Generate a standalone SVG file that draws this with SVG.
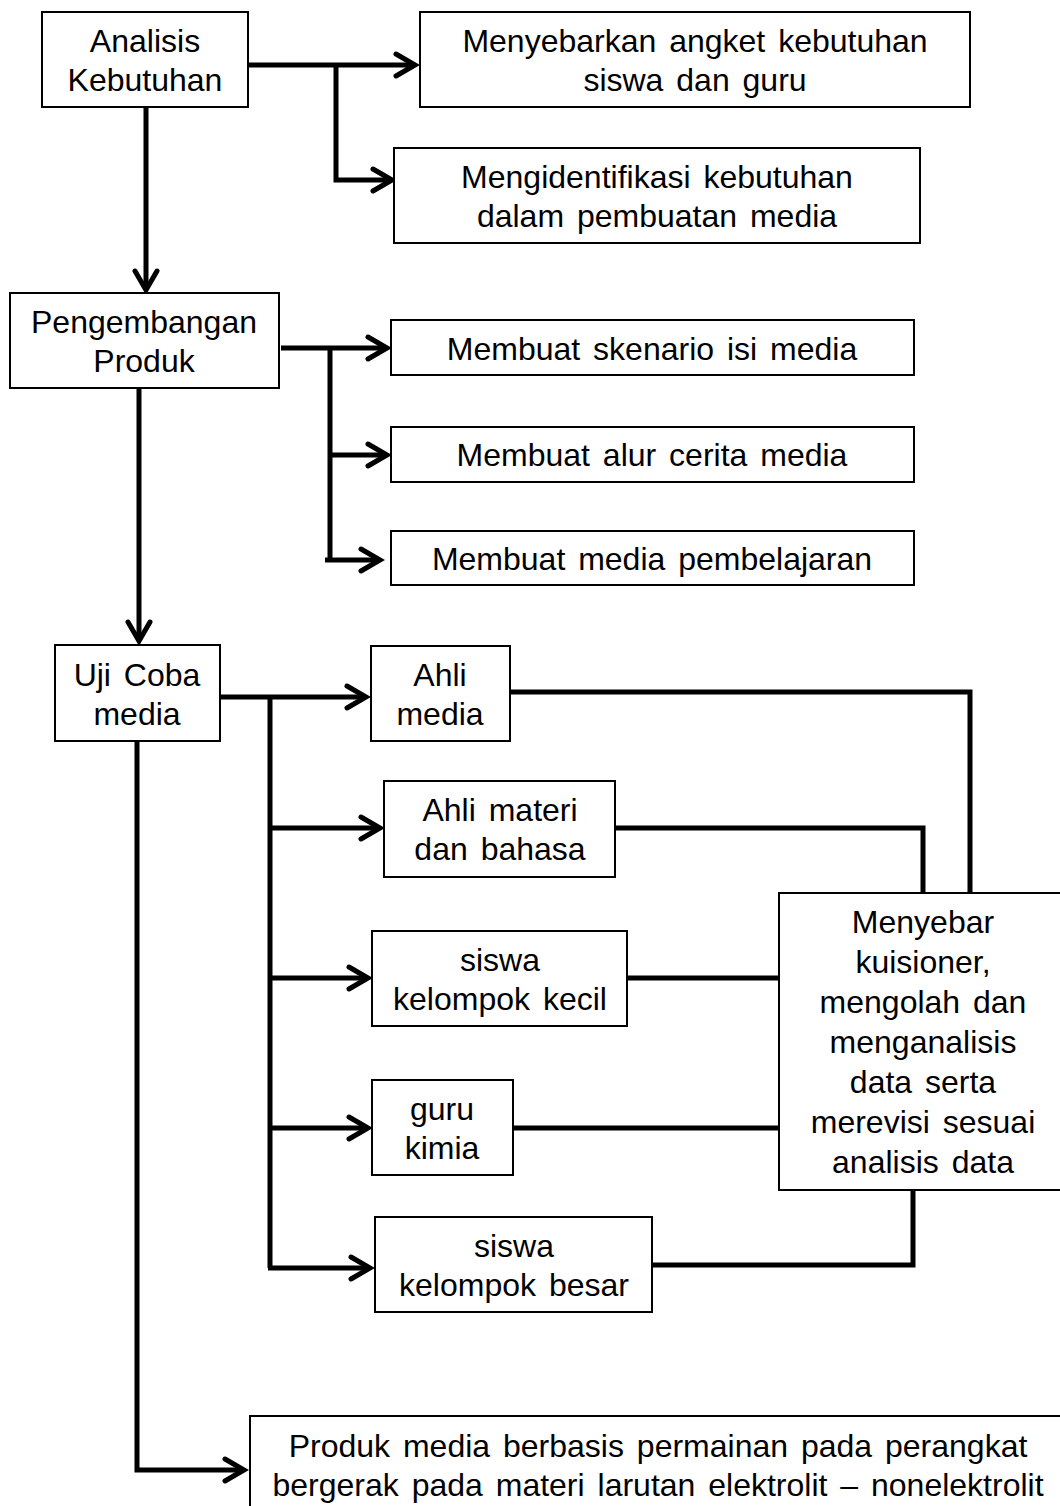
<svg xmlns="http://www.w3.org/2000/svg" width="1060" height="1506" viewBox="0 0 1060 1506">
<style>
.box{fill:#fff;stroke:#000;stroke-width:2}
.t{font-family:"Liberation Sans",Arial,sans-serif;font-size:32px;fill:#000;text-anchor:middle;word-spacing:4px}
.c{fill:none;stroke:#000;stroke-width:5;stroke-linejoin:miter}
.a{fill:none;stroke:#000;stroke-width:5;marker-end:url(#arr)}
</style>
<defs>
<marker id="arr" markerUnits="userSpaceOnUse" viewBox="-24 -14 28 28" markerWidth="28" markerHeight="28" refX="0" refY="0" orient="auto" overflow="visible">
<path d="M-19,-11 L0,0 L-19,11" fill="none" stroke="#000" stroke-width="5" stroke-linecap="round" stroke-linejoin="miter"/>
</marker>
</defs>
<rect width="1060" height="1506" fill="#fff"/>
<g id="connectors">
<path class="a" d="M243,65 H415"/>
<path class="a" d="M336,65 V180 H392"/>
<path class="a" d="M146,107 V290"/>
<path class="a" d="M281,348 H387"/>
<path class="c" d="M330,348 V560"/>
<path class="a" d="M330,455 H387"/>
<path class="a" d="M325,560 H380"/>
<path class="a" d="M139,388 V641"/>
<path class="a" d="M220,697 H366"/>
<path class="c" d="M270,697 V1268"/>
<path class="a" d="M270,828 H380"/>
<path class="a" d="M270,978 H368"/>
<path class="a" d="M270,1128 H368"/>
<path class="a" d="M268,1268 H370"/>
<path class="a" d="M137,741 V1470 H244"/>
<path class="c" d="M510,692 H970 V893"/>
<path class="c" d="M615,828 H923 V893"/>
<path class="c" d="M627,978 H783"/>
<path class="c" d="M513,1128 H779"/>
<path class="c" d="M913,1190 V1265 H652"/>
</g>
<g id="analisis"><rect class="box" x="42" y="12" width="206" height="95"/><text class="t" x="145" y="52">Analisis</text><text class="t" x="145" y="91">Kebutuhan</text></g>
<g id="menyebarkan"><rect class="box" x="420" y="12" width="550" height="95"/><text class="t" x="695" y="52">Menyebarkan angket kebutuhan</text><text class="t" x="695" y="91">siswa dan guru</text></g>
<g id="mengidentifikasi"><rect class="box" x="394" y="148" width="526" height="95"/><text class="t" x="657" y="188">Mengidentifikasi kebutuhan</text><text class="t" x="657" y="227">dalam pembuatan media</text></g>
<g id="pengembangan"><rect class="box" x="10" y="293" width="269" height="95"/><text class="t" x="144" y="333">Pengembangan</text><text class="t" x="144" y="372">Produk</text></g>
<g id="skenario"><rect class="box" x="391" y="320" width="523" height="55"/><text class="t" x="652" y="360">Membuat skenario isi media</text></g>
<g id="alur"><rect class="box" x="391" y="427" width="523" height="55"/><text class="t" x="652" y="466">Membuat alur cerita media</text></g>
<g id="mediapemb"><rect class="box" x="391" y="531" width="523" height="54"/><text class="t" x="652" y="570">Membuat media pembelajaran</text></g>
<g id="ujicoba"><rect class="box" x="55" y="645" width="165" height="96"/><text class="t" x="137" y="686">Uji Coba</text><text class="t" x="137" y="725">media</text></g>
<g id="ahlimedia"><rect class="box" x="371" y="646" width="139" height="95"/><text class="t" x="440" y="686">Ahli</text><text class="t" x="440" y="725">media</text></g>
<g id="ahlimateri"><rect class="box" x="384" y="781" width="231" height="96"/><text class="t" x="500" y="821">Ahli materi</text><text class="t" x="500" y="860">dan bahasa</text></g>
<g id="siswakecil"><rect class="box" x="372" y="931" width="255" height="95"/><text class="t" x="500" y="971">siswa</text><text class="t" x="500" y="1010">kelompok kecil</text></g>
<g id="gurukimia"><rect class="box" x="372" y="1080" width="141" height="95"/><text class="t" x="442" y="1120">guru</text><text class="t" x="442" y="1159">kimia</text></g>
<g id="siswabesar"><rect class="box" x="375" y="1217" width="277" height="95"/><text class="t" x="514" y="1257">siswa</text><text class="t" x="514" y="1296">kelompok besar</text></g>
<g id="menyebar"><rect class="box" x="779" y="893" width="290" height="297"/>
<text class="t" x="923" y="933">Menyebar</text><text class="t" x="923" y="973">kuisioner,</text><text class="t" x="923" y="1013">mengolah dan</text><text class="t" x="923" y="1053">menganalisis</text><text class="t" x="923" y="1093">data serta</text><text class="t" x="923" y="1133">merevisi sesuai</text><text class="t" x="923" y="1173">analisis data</text></g>
<g id="produk"><rect class="box" x="250" y="1416" width="830" height="110"/><text class="t" x="658" y="1457">Produk media berbasis permainan pada perangkat</text><text class="t" x="658" y="1496">bergerak pada materi larutan elektrolit – nonelektrolit</text></g>
</svg>
